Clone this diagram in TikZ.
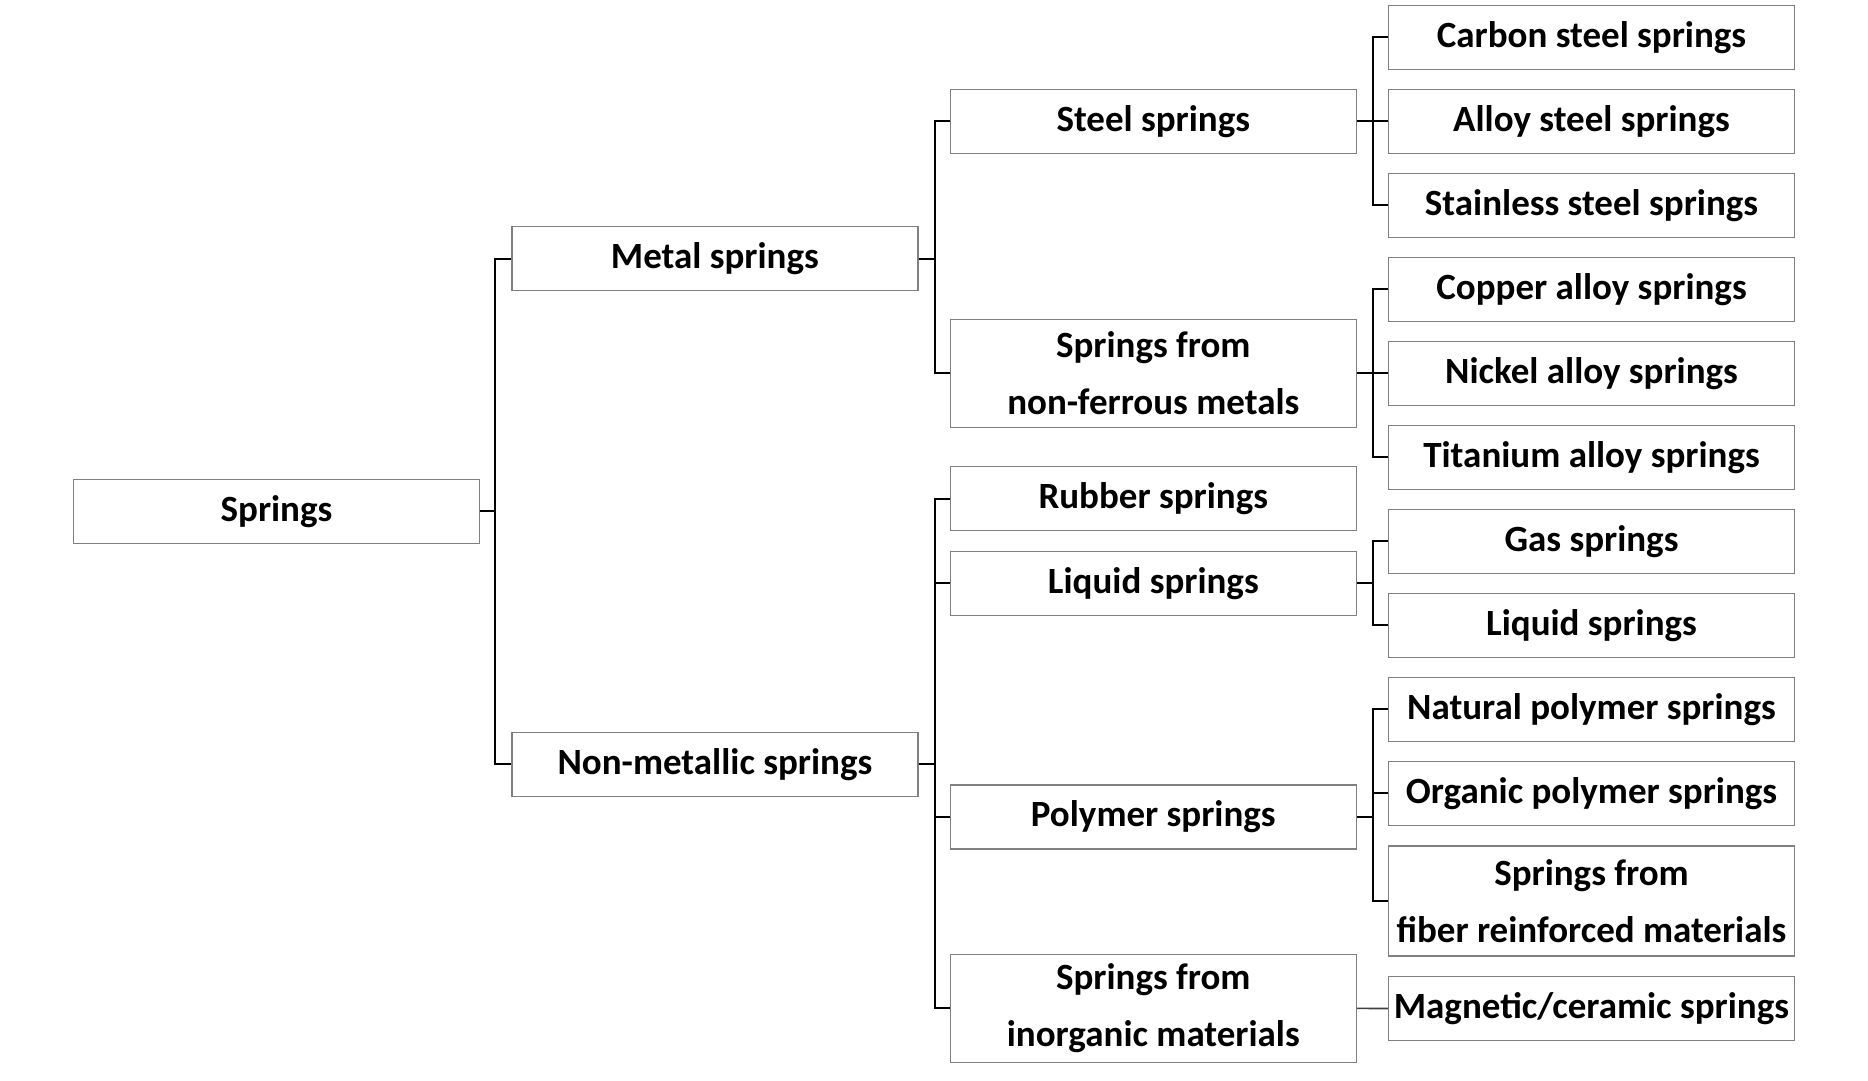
\documentclass[tikz,border=0pt]{standalone}
\usepackage{fontspec}
\setmainfont{Carlito}
\definecolor{boxgray}{RGB}{128,128,128}
\definecolor{linkgray}{RGB}{64,64,64}
\begin{document}
\begin{tikzpicture}[x=1pt,y=-1pt,
  box/.style={draw=boxgray,line width=1.3pt,minimum width=406pt,minimum height=64pt,inner sep=0pt,align=center,
    font=\fontsize{37}{57}\selectfont\bfseries},
  tall/.style={minimum height=108pt},
  link/.style={draw=black,line width=2pt}]
\useasboundingbox (0,0) rectangle (1868,1081);
% level 1
\node[box] (springs) at (276.5,511.4) {Springs};
% level 2
\node[box] (metal) at (714.9,258.5) {Metal springs};
\node[box] (nonmetal) at (714.9,764.2) {Non-metallic springs};
% level 3
\node[box] (steel) at (1153.3,121.3) {Steel springs};
\node[box,tall] (nonferrous) at (1153.3,373.3) {Springs from\\non-ferrous metals};
\node[box] (rubber) at (1153.3,498.8) {Rubber springs};
\node[box] (liquidA) at (1153.3,583.3) {Liquid springs};
\node[box] (polymer) at (1153.3,817) {Polymer springs};
\node[box,tall] (inorganic) at (1153.3,1008.4) {Springs from\\inorganic materials};
% level 4
\node[box] (carbon) at (1591.5,37.3) {Carbon steel springs};
\node[box] (alloy) at (1591.5,121.3) {Alloy steel springs};
\node[box] (stainless) at (1591.5,205.3) {Stainless steel springs};
\node[box] (copper) at (1591.5,289.3) {Copper alloy springs};
\node[box] (nickel) at (1591.5,373.3) {Nickel alloy springs};
\node[box] (titanium) at (1591.5,457.3) {Titanium alloy springs};
\node[box] (gas) at (1591.5,541.3) {Gas springs};
\node[box] (liquidB) at (1591.5,625.3) {Liquid springs};
\node[box] (natural) at (1591.5,709.3) {Natural polymer springs};
\node[box] (organic) at (1591.5,793.3) {Organic polymer springs};
\node[box,minimum height=110pt] (fiber) at (1591.5,900.9) {Springs from\\fiber reinforced materials};
\node[box] (magnetic) at (1591.5,1008.5) {Magnetic/ceramic springs};
% connectors
\foreach \c in {metal,nonmetal}
  \draw[link] (springs.east) -- ++(15.3,0) |- (\c.west);
\foreach \c in {steel,nonferrous}
  \draw[link] (metal.east) -- ++(16.5,0) |- (\c.west);
\foreach \c in {rubber,liquidA,polymer,inorganic}
  \draw[link] (nonmetal.east) -- ++(16.5,0) |- (\c.west);
\foreach \c in {carbon,alloy,stainless}
  \draw[link] (steel.east) -- ++(15.6,0) |- (\c.west);
\foreach \c in {copper,nickel,titanium}
  \draw[link] (nonferrous.east) -- ++(15.6,0) |- (\c.west);
\foreach \c in {gas,liquidB}
  \draw[link] (liquidA.east) -- ++(15.6,0) |- (\c.west);
\foreach \c in {natural,organic,fiber}
  \draw[link] (polymer.east) -- ++(15.6,0) |- (\c.west);
\draw[draw=linkgray,line width=1.6pt] (inorganic.east) -- (magnetic.west);
\end{tikzpicture}
\end{document}
